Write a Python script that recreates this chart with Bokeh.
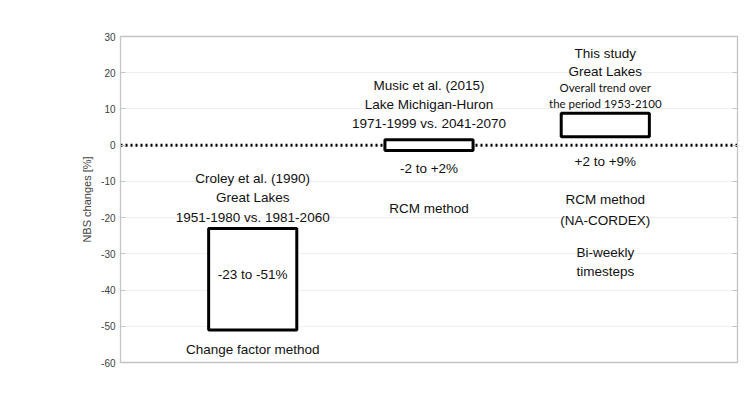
from bokeh.plotting import figure
from bokeh.models import FactorRange, Range1d, Span, LinearAxis, FixedTicker, PrintfTickFormatter
from bokeh.core.properties import value
from bokeh.embed import file_html
from bokeh.resources import INLINE

# Data
studies = ["Croley et al. (1990)", "Music et al. (2015)", "This study"]
lower = [-51, -1.5, 2.3]
upper = [-23, 1.5, 8.8]
y_ticks = [-60, -50, -40, -30, -20, -10, 0, 10, 20, 30]

# Annotation lines: (study, y, text, small-font?)
notes = [
    (studies[0], -9.2, "Croley et al. (1990)", False),
    (studies[0], -14.4, "Great Lakes", False),
    (studies[0], -20.0, "1951-1980 vs. 1981-2060", False),
    (studies[0], -35.7, "-23 to -51%", False),
    (studies[0], -56.4, "Change factor method", False),
    (studies[1], 16.5, "Music et al. (2015)", False),
    (studies[1], 11.2, "Lake Michigan-Huron", False),
    (studies[1], 6.0, "1971-1999 vs. 2041-2070", False),
    (studies[1], -6.4, "-2 to +2%", False),
    (studies[1], -17.5, "RCM method", False),
    (studies[2], 25.3, "This study", False),
    (studies[2], 20.3, "Great Lakes", False),
    (studies[2], 15.9, "Overall trend over", True),
    (studies[2], 11.5, "the period 1953-2100", True),
    (studies[2], -4.5, "+2 to +9%", False),
    (studies[2], -15.0, "RCM method", False),
    (studies[2], -20.8, "(NA-CORDEX)", False),
    (studies[2], -29.6, "Bi-weekly", False),
    (studies[2], -34.9, "timesteps", False),
]

p = figure(
    width=747, height=399,
    x_range=FactorRange(*studies, range_padding=0.25, range_padding_units="absolute"),
    y_range=Range1d(-60, 30),
    output_backend="svg", toolbar_location=None,
    min_border_left=120, min_border_right=10, min_border_top=36, min_border_bottom=37,
)
p.xaxis.visible = False
p.xgrid.grid_line_color = None
p.ygrid.grid_line_color = "#efefef"
p.ygrid.ticker = FixedTicker(ticks=y_ticks)
p.outline_line_color = "#c4c4c4"
p.outline_line_width = 1.3
p.background_fill_color = "white"
p.border_fill_color = "white"

ya = p.yaxis[0]
ya.ticker = FixedTicker(ticks=y_ticks)
ya.formatter = PrintfTickFormatter(format="%d")
ya.axis_line_color = "#c4c4c4"
ya.major_tick_line_color = "#c4c4c4"
ya.major_tick_in = 5
ya.major_tick_out = 0
ya.minor_tick_line_color = None
ya.major_label_text_font = "Liberation Sans"
ya.major_label_text_font_size = "10px"
ya.major_label_text_color = "#404040"
ya.major_label_standoff = 5
ya.axis_label = "NBS changes [%]"
ya.axis_label_text_font = "Liberation Sans"
ya.axis_label_text_font_size = "11px"
ya.axis_label_text_font_style = "normal"
ya.axis_label_text_color = "#404040"
ya.axis_label_standoff = 5

ra = LinearAxis(ticker=FixedTicker(ticks=y_ticks), major_label_text_font_size="0px",
                major_tick_in=5, major_tick_out=0, minor_tick_line_color=None,
                major_tick_line_color="#c4c4c4", axis_line_color="#c4c4c4",
                major_label_standoff=0)
p.add_layout(ra, "right")

zero = Span(location=0, dimension="width", line_color="black", line_width=3,
            line_dash="2 3", level="underlay")
p.add_layout(zero)

p.vbar(x=studies, top=upper, bottom=lower, width=0.5, fill_color="white",
       line_color="black", line_width=3)

big = [n for n in notes if not n[3]]
small = [n for n in notes if n[3]]
p.text(x=[n[0] for n in big], y=[n[1] for n in big], text=[n[2] for n in big],
       text_align="center", text_baseline="middle", text_color="#111111",
       text_font=value("Liberation Sans"), text_font_size="13.5px")
p.text(x=[n[0] for n in small], y=[n[1] for n in small], text=[n[2] for n in small],
       text_align="center", text_baseline="middle", text_color="#111111",
       text_font=value("Lato"), text_font_size="11.5px")

open("out.html", "w").write(file_html(p, INLINE))
